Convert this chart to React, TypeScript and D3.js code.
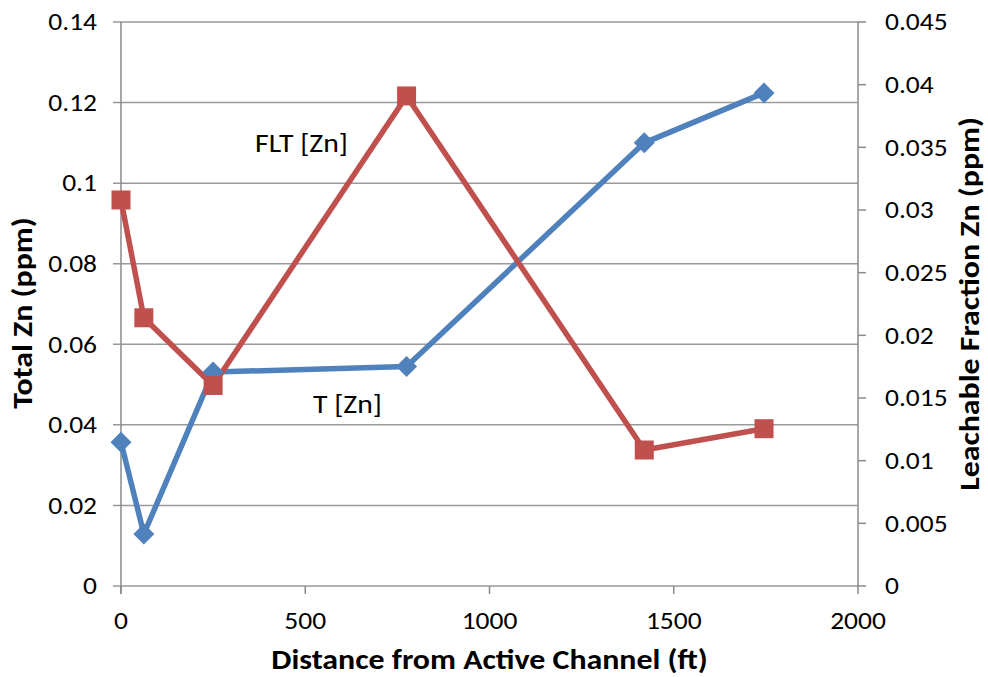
import React from "react";
import * as d3 from "d3";

const distances = [0, 62, 250, 775, 1420, 1745];
const totalZn = [0.0357, 0.0129, 0.0531, 0.0545, 0.110, 0.1224];
const fltZn = [0.0308, 0.0214, 0.0160, 0.0391, 0.01085, 0.01255];
const xTicks = [0, 500, 1000, 1500, 2000];
const leftTicks = [0, 0.02, 0.04, 0.06, 0.08, 0.1, 0.12, 0.14];
const rightTicks = [0, 0.005, 0.01, 0.015, 0.02, 0.025, 0.03, 0.035, 0.04, 0.045];

const W = 988, H = 677;
const L = 121, R = 858, T = 22, B = 586;
const BLUE = "#4F81BD", RED = "#C0504D";
const FONT = "Carlito, 'Open Sans', 'Liberation Sans', sans-serif";
const SX = 1.1;

function Txt(props: { x: number; y: number; size: number; anchor?: string; bold?: boolean; rot?: number; dy?: string; children: any }) {
  const { x, y, size, anchor = "start", bold = false, rot = 0, dy, children } = props;
  return (
    <text
      transform={`translate(${x},${y}) rotate(${rot}) scale(${SX},1)`}
      textAnchor={anchor}
      fontSize={size}
      fontWeight={bold ? "bold" : "normal"}
      dy={dy}
      fill="#000"
    >
      {children}
    </text>
  );
}

export default function App() {
  const x = d3.scaleLinear().domain([0, 2000]).range([L, R]);
  const yL = d3.scaleLinear().domain([0, 0.14]).range([B, T]);
  const yR = d3.scaleLinear().domain([0, 0.045]).range([B, T]);
  const lineT = d3.line<number>().x((_, i) => x(distances[i])).y((d) => yL(d));
  const lineF = d3.line<number>().x((_, i) => x(distances[i])).y((d) => yR(d));
  const fmt = (v: number) => String(+v.toFixed(3));
  return (
    <svg width={W} height={H} style={{ position: "absolute", left: 0, top: 0, background: "#fff" }} fontFamily={FONT}>
      {leftTicks.map((t) => (
        <g key={"l" + t}>
          <line x1={L - 8} x2={R} y1={yL(t)} y2={yL(t)} stroke="#9a9a9a" strokeWidth={1.5} />
          <Txt x={97} y={yL(t)} dy="0.33em" anchor="end" size={25}>{fmt(t)}</Txt>
        </g>
      ))}
      <line x1={L} x2={L} y1={T} y2={B + 8} stroke="#8a8a8a" strokeWidth={1.5} />
      <line x1={R} x2={R} y1={T} y2={B} stroke="#8a8a8a" strokeWidth={1.5} />
      {rightTicks.map((t) => (
        <g key={"r" + t}>
          <line x1={R} x2={R + 8} y1={yR(t)} y2={yR(t)} stroke="#8a8a8a" strokeWidth={1.5} />
          <Txt x={885} y={yR(t)} dy="0.33em" size={25}>{fmt(t)}</Txt>
        </g>
      ))}
      {xTicks.map((t) => (
        <g key={"x" + t}>
          <line x1={x(t)} x2={x(t)} y1={B} y2={B + 8} stroke="#8a8a8a" strokeWidth={1.5} />
          <Txt x={x(t)} y={629} anchor="middle" size={25}>{t}</Txt>
        </g>
      ))}
      <path d={lineT(totalZn) || ""} fill="none" stroke={BLUE} strokeWidth={5.5} strokeLinejoin="round" />
      <path d={lineF(fltZn) || ""} fill="none" stroke={RED} strokeWidth={5.5} strokeLinejoin="round" />
      {totalZn.map((v, i) => {
        const cx = x(distances[i]), cy = yL(v), s = 10.5;
        return <path key={"d" + i} d={`M${cx},${cy - s}L${cx + s},${cy}L${cx},${cy + s}L${cx - s},${cy}Z`} fill={BLUE} />;
      })}
      {fltZn.map((v, i) => (
        <rect key={"s" + i} x={x(distances[i]) - 9.5} y={yR(v) - 9.5} width={19} height={19} fill={RED} />
      ))}
      <Txt x={255} y={152} size={27}>FLT [Zn]</Txt>
      <Txt x={313} y={413} size={27}>T [Zn]</Txt>
      <Txt x={(L + R) / 2} y={669} anchor="middle" size={29} bold>Distance from Active Channel (ft)</Txt>
      <Txt x={32} y={(T + B) / 2 + 9} anchor="middle" size={29} bold rot={-90}>Total Zn (ppm)</Txt>
      <Txt x={979} y={(T + B) / 2} anchor="middle" size={29} bold rot={-90}>Leachable Fraction Zn (ppm)</Txt>
    </svg>
  );
}
